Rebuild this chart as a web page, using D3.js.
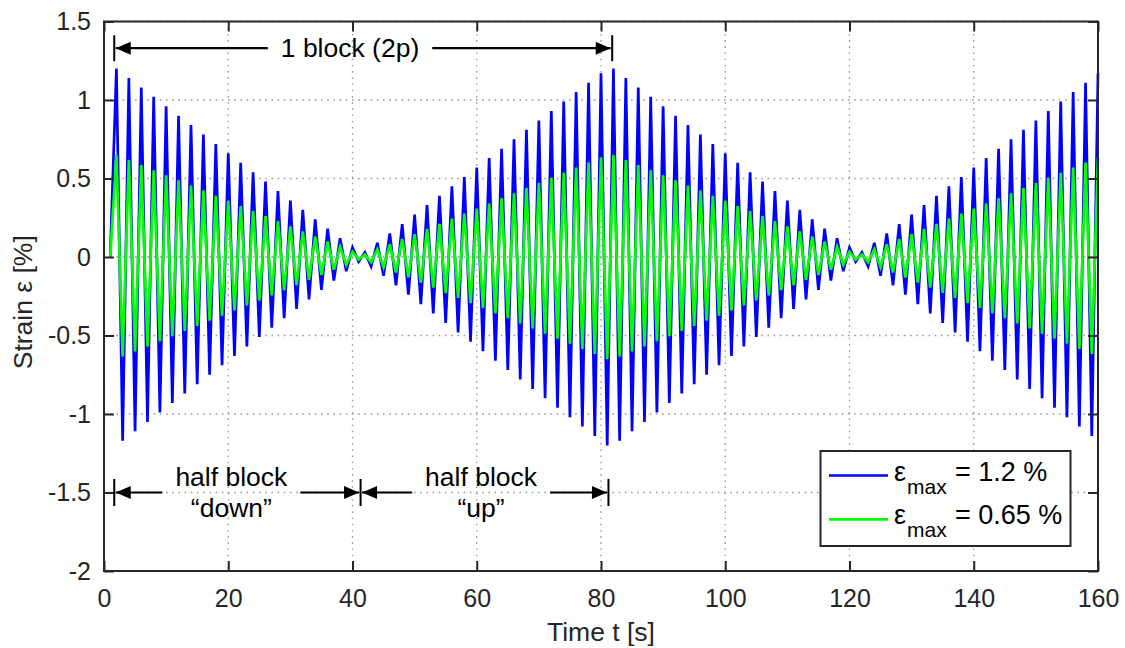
<!DOCTYPE html>
<html>
<head>
<meta charset="utf-8">
<script src="https://cdn.jsdelivr.net/npm/d3@7"></script>
<style>
  html, body { margin: 0; padding: 0; background: #fff; }
  svg { display: block; font-family: "Liberation Sans", Arial, Helvetica, sans-serif; }
</style>
</head>
<body>
<svg id="chart" width="1125" height="648"></svg>
<script>
// Strain histories sampled once per second (t = 1 … 160 s)
const strainHigh = [
  0,
  1.20,-1.17,1.14,-1.11,1.08,-1.05,1.02,-0.99,0.96,-0.93,0.90,-0.87,0.84,-0.81,0.78,-0.75,0.72,-0.69,0.66,-0.63,
  0.60,-0.57,0.54,-0.51,0.48,-0.45,0.42,-0.39,0.36,-0.33,0.30,-0.27,0.24,-0.21,0.18,-0.15,0.12,-0.09,0.06,-0.03,
  0.03,-0.06,0.09,-0.12,0.15,-0.18,0.21,-0.24,0.27,-0.30,0.33,-0.36,0.39,-0.42,0.45,-0.48,0.51,-0.54,0.57,-0.60,
  0.63,-0.66,0.69,-0.72,0.75,-0.78,0.81,-0.84,0.87,-0.90,0.93,-0.96,0.99,-1.02,1.05,-1.08,1.11,-1.14,1.17,-1.20,
  1.20,-1.17,1.14,-1.11,1.08,-1.05,1.02,-0.99,0.96,-0.93,0.90,-0.87,0.84,-0.81,0.78,-0.75,0.72,-0.69,0.66,-0.63,
  0.60,-0.57,0.54,-0.51,0.48,-0.45,0.42,-0.39,0.36,-0.33,0.30,-0.27,0.24,-0.21,0.18,-0.15,0.12,-0.09,0.06,-0.03,
  0.03,-0.06,0.09,-0.12,0.15,-0.18,0.21,-0.24,0.27,-0.30,0.33,-0.36,0.39,-0.42,0.45,-0.48,0.51,-0.54,0.57,-0.60,
  0.63,-0.66,0.69,-0.72,0.75,-0.78,0.81,-0.84,0.87,-0.90,0.93,-0.96,0.99,-1.02,1.05,-1.08,1.11,-1.14,1.17
];
const strainLow = [
  0,
  0.650,-0.634,0.618,-0.601,0.585,-0.569,0.553,-0.536,0.520,-0.504,0.488,-0.471,0.455,-0.439,0.423,-0.406,0.390,-0.374,0.358,-0.341,
  0.325,-0.309,0.293,-0.276,0.260,-0.244,0.228,-0.211,0.195,-0.179,0.163,-0.146,0.130,-0.114,0.098,-0.081,0.065,-0.049,0.033,-0.016,
  0.016,-0.033,0.049,-0.065,0.081,-0.098,0.114,-0.130,0.146,-0.163,0.179,-0.195,0.211,-0.228,0.244,-0.260,0.276,-0.293,0.309,-0.325,
  0.341,-0.358,0.374,-0.390,0.406,-0.423,0.439,-0.455,0.471,-0.488,0.504,-0.520,0.536,-0.553,0.569,-0.585,0.601,-0.618,0.634,-0.650,
  0.650,-0.634,0.618,-0.601,0.585,-0.569,0.553,-0.536,0.520,-0.504,0.488,-0.471,0.455,-0.439,0.423,-0.406,0.390,-0.374,0.358,-0.341,
  0.325,-0.309,0.293,-0.276,0.260,-0.244,0.228,-0.211,0.195,-0.179,0.163,-0.146,0.130,-0.114,0.098,-0.081,0.065,-0.049,0.033,-0.016,
  0.016,-0.033,0.049,-0.065,0.081,-0.098,0.114,-0.130,0.146,-0.163,0.179,-0.195,0.211,-0.228,0.244,-0.260,0.276,-0.293,0.309,-0.325,
  0.341,-0.358,0.374,-0.390,0.406,-0.423,0.439,-0.455,0.471,-0.488,0.504,-0.520,0.536,-0.553,0.569,-0.585,0.601,-0.618,0.634
];
const timeSeconds = d3.range(1, strainHigh.length + 1);

const xTicks = [0, 20, 40, 60, 80, 100, 120, 140, 160];
const yTicks = [-2, -1.5, -1, -0.5, 0, 0.5, 1, 1.5];
const yTickLabels = ["-2", "-1.5", "-1", "-0.5", "0", "0.5", "1", "1.5"];

const seriesNames = ["1.2 %", "0.65 %"];
const seriesColors = ["#0000ff", "#00ff00"];

// Block / half-block markers (time in s, strain in %)
const blockStart = 1.65, blockHalf = 41.3, blockHalfEnd = 81.2, blockEnd = 81.8;
const blockArrowLevel = 1.33, halfArrowLevel = -1.5;

const svg = d3.select("#chart");
const ink = "#262626";
const fontSize = 25;

const x = d3.scaleLinear().domain([0, 160]).range([104, 1098]);
const y = d3.scaleLinear().domain([-2, 1.5]).range([571, 21.5]);

// dotted grid
const grid = svg.append("g").attr("stroke", "#9a9a9a").attr("stroke-width", 1.3)
  .attr("stroke-dasharray", "1.6,4.6");
grid.selectAll(".gx").data(xTicks).join("line")
  .attr("x1", d => x(d)).attr("x2", d => x(d)).attr("y1", y(1.5)).attr("y2", y(-2));
grid.selectAll(".gy").data(yTicks).join("line")
  .attr("x1", x(0)).attr("x2", x(160)).attr("y1", d => y(d)).attr("y2", d => y(d));

// strain traces
const line = d3.line().x((d, i) => x(timeSeconds[i])).y(d => y(d));
[strainHigh, strainLow].forEach((s, k) => {
  svg.append("path").datum(s)
    .attr("d", line)
    .attr("fill", "none")
    .attr("stroke", seriesColors[k])
    .attr("stroke-width", 2.7)
    .attr("stroke-linejoin", "miter");
});

// axes (ticks pointing inward, box on all sides)
function styleAxis(g) {
  g.select(".domain").remove();
  g.selectAll(".tick line").attr("stroke", ink).attr("stroke-width", 2);
  g.selectAll(".tick text").attr("fill", ink).attr("font-size", fontSize)
    .attr("font-family", "\"Liberation Sans\", Arial, sans-serif");
}
svg.append("g").attr("transform", `translate(0,${y(-2)})`)
  .call(d3.axisBottom(x).tickValues(xTicks).tickFormat(d3.format("d")).tickSizeInner(-10).tickSizeOuter(0).tickPadding(18))
  .call(styleAxis);
svg.append("g").attr("transform", `translate(0,${y(1.5)})`)
  .call(d3.axisTop(x).tickValues(xTicks).tickFormat("").tickSizeInner(-10).tickSizeOuter(0))
  .call(styleAxis);
svg.append("g").attr("transform", `translate(${x(0)},0)`)
  .call(d3.axisLeft(y).tickValues(yTicks).tickFormat((d, i) => yTickLabels[i]).tickSizeInner(-10).tickSizeOuter(0).tickPadding(13))
  .call(styleAxis);
svg.append("g").attr("transform", `translate(${x(160)},0)`)
  .call(d3.axisRight(y).tickValues(yTicks).tickFormat("").tickSizeInner(-10).tickSizeOuter(0))
  .call(styleAxis);

svg.append("rect")
  .attr("x", x(0)).attr("y", y(1.5))
  .attr("width", x(160) - x(0)).attr("height", y(-2) - y(1.5))
  .attr("fill", "none").attr("stroke", ink).attr("stroke-width", 2);

// axis titles
svg.append("text").attr("x", (x(0) + x(160)) / 2).attr("y", 641)
  .attr("text-anchor", "middle").attr("font-size", 26.5).attr("fill", ink)
  .text("Time t [s]");
svg.append("text").attr("transform", `translate(32,${(y(1.5) + y(-2)) / 2 + 6}) rotate(-90)`)
  .attr("text-anchor", "middle").attr("font-size", 26.5).attr("fill", ink)
  .text("Strain ε [%]");

// dimension arrows
const ann = svg.append("g");
function bar(t, level, half) {
  ann.append("line").attr("x1", x(t)).attr("x2", x(t))
    .attr("y1", y(level) - half).attr("y2", y(level) + half)
    .attr("stroke", "#000").attr("stroke-width", 2);
}
function head(tipX, py, dir) {
  const L = 15, W = 6.5;
  ann.append("path")
    .attr("d", `M${tipX},${py} L${tipX - dir * L},${py - W} L${tipX - dir * L},${py + W} Z`)
    .attr("fill", "#000");
}
function dimension(t0, t1, level, lines, tText, lineOffsets) {
  const py = y(level);
  const x0 = x(t0) + 1.5, x1 = x(t1) - 1.5;
  const g = ann.append("g");
  const texts = lines.map((s, i) => g.append("text")
    .attr("x", x(tText)).attr("y", py + lineOffsets[i])
    .attr("text-anchor", "middle").attr("font-size", 26.5).attr("fill", "#000").text(s));
  const w = d3.max(texts, t => t.node().getComputedTextLength());
  const gapL = x(tText) - w / 2 - 13, gapR = x(tText) + w / 2 + 13;
  ann.append("line").attr("x1", x0).attr("x2", gapL).attr("y1", py).attr("y2", py)
    .attr("stroke", "#000").attr("stroke-width", 2.2);
  ann.append("line").attr("x1", gapR).attr("x2", x1).attr("y1", py).attr("y2", py)
    .attr("stroke", "#000").attr("stroke-width", 2.2);
  head(x0, py, -1);
  head(x1, py, 1);
}

bar(blockStart, blockArrowLevel, 13);
bar(blockEnd, blockArrowLevel, 13);
dimension(blockStart, blockEnd, blockArrowLevel, ["1 block (2p)"], 39.6, [9]);

bar(blockStart, halfArrowLevel, 13.5);
bar(blockHalf, halfArrowLevel, 13.5);
bar(blockHalfEnd, halfArrowLevel, 13.5);
dimension(blockStart, blockHalf, halfArrowLevel, ["half block", "\u201cdown\u201d"], 20.5, [-7, 24]);
dimension(blockHalf, blockHalfEnd, halfArrowLevel, ["half block", "\u201cup\u201d"], 60.7, [-7, 24]);

// legend
const lg = svg.append("g");
lg.append("rect").attr("x", 820.5).attr("y", 451).attr("width", 250).attr("height", 95)
  .attr("fill", "#fff").attr("stroke", ink).attr("stroke-width", 2);
seriesNames.forEach((name, i) => {
  const cy = 475.5 + i * 43.8;
  lg.append("line").attr("x1", 829).attr("x2", 888).attr("y1", cy).attr("y2", cy)
    .attr("stroke", seriesColors[i]).attr("stroke-width", 2.7);
  const t = lg.append("text").attr("y", cy + 5).attr("font-size", 27).attr("fill", "#000");
  t.append("tspan").attr("x", 894).text("ε");
  t.append("tspan").attr("x", 907).attr("dy", 13).attr("font-size", 21).text("max");
  t.append("tspan").attr("x", 955).attr("dy", -13).text("= " + name);
});
</script>
</body>
</html>
